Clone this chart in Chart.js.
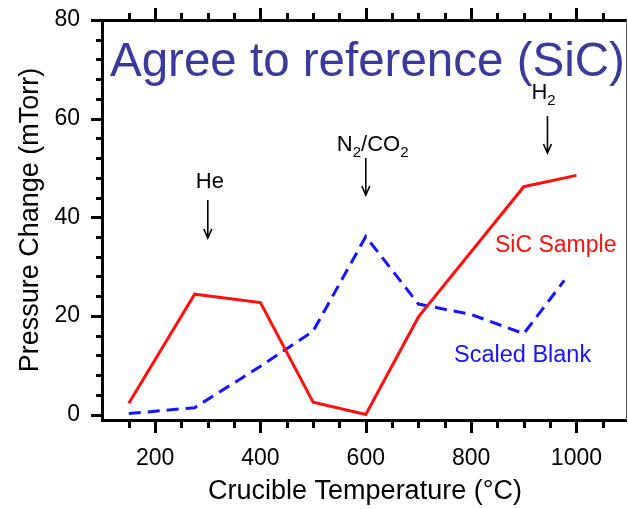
<!DOCTYPE html>
<html>
<head>
<meta charset="utf-8">
<script src="https://cdn.jsdelivr.net/npm/chart.js@4"></script>
<style>
  html, body { margin: 0; padding: 0; background: #fff; }
  #wrap { width: 628px; height: 509px; }
</style>
</head>
<body>
<div id="wrap"><canvas id="chart" width="628" height="509"></canvas></div>
<script>
// ---- Data ----
const sampleTemps = [150, 275, 400, 500, 600, 700, 900, 1000];
const sampleValues = [2.3, 24.4, 22.7, 2.5, 0, 19.8, 46.2, 48.5];
const blankTemps = [150, 275, 400, 500, 600, 700, 800, 900, 977];
const blankValues = [0.2, 1.4, 9.8, 16.9, 36.1, 22.4, 20.3, 16.4, 27.2];
const xTicks = [200, 400, 600, 800, 1000];
const yTicks = [0, 20, 40, 60, 80];

const FONT = '"Liberation Sans", Arial, sans-serif';
const RED = '#ff0f0f';
const BLUE = '#1414ff';

// frame, ticks and annotations drawn on top of the chart area
const decorations = {
  id: 'decorations',
  afterDraw(chart) {
    const { ctx, chartArea: a, scales: { x, y } } = chart;
    const L = Math.round(a.left), R = Math.round(a.right), T = Math.round(a.top), B = Math.round(a.bottom);
    ctx.save();
    ctx.setLineDash([]);

    // frame
    ctx.fillStyle = '#000';
    ctx.fillRect(L - 2, T - 1, R - L + 2, 3);
    ctx.fillRect(L - 2, B - 1, R - L + 2, 3);
    ctx.fillRect(L - 2, T - 1, 3, B - T + 3);
    ctx.fillStyle = '#555';
    ctx.fillRect(R - 1, T, 1, B - T);

    // x ticks (bottom and top, outward)
    ctx.fillStyle = '#000';
    for (let v = 150; v <= x.max; v += 50) {
      const px = Math.round(x.getPixelForValue(v));
      const len = v % 200 === 0 ? 12 : 7;
      ctx.fillRect(px - 1, B, 3, len + 1);
      ctx.fillRect(px - 1, T - len, 3, len);
    }
    // y ticks (left, outward)
    for (let v = 0; v <= 80; v += 4) {
      const py = Math.round(y.getPixelForValue(v));
      const len = v % 20 === 0 ? 12 : 7;
      ctx.fillRect(L - len, py - 1, len, 3);
    }

    // headline
    ctx.fillStyle = '#3a3a9e';
    ctx.font = '47.5px ' + FONT;
    ctx.textAlign = 'left';
    ctx.textBaseline = 'alphabetic';
    ctx.fillText('Agree to reference (SiC)', L + 7, 76);

    // series labels
    ctx.font = '23px ' + FONT;
    ctx.fillStyle = RED;
    ctx.fillText('SiC Sample', 495, 252);
    ctx.font = '23.5px ' + FONT;
    ctx.fillStyle = BLUE;
    ctx.fillText('Scaled Blank', 454, 362);

    // gas arrows
    ctx.fillStyle = '#000';
    ctx.strokeStyle = '#000';
    ctx.lineWidth = 1.6;
    const arrow = (xv, top, bottom) => {
      const px = x.getPixelForValue(xv);
      ctx.beginPath();
      ctx.moveTo(px, top); ctx.lineTo(px, bottom);
      ctx.moveTo(px - 4, bottom - 9); ctx.lineTo(px, bottom); ctx.lineTo(px + 4, bottom - 9);
      ctx.stroke();
      return px;
    };
    const BIG = '22px ' + FONT, SMALL = '15px ' + FONT;
    ctx.font = BIG;
    ctx.textAlign = 'center';

    let px = arrow(300, 200, 238);
    ctx.fillText('He', px + 2, 188);

    // labels with subscripts
    ctx.textAlign = 'left';
    let cx = 0;
    const sub = (t, base) => { ctx.font = SMALL; ctx.fillText(t, cx, base + 6); cx += ctx.measureText(t).width; ctx.font = BIG; };
    const txt = (t, base) => { ctx.font = BIG; ctx.fillText(t, cx, base); cx += ctx.measureText(t).width; };

    px = arrow(600, 158, 195);
    cx = px - 29;
    txt('N', 151); sub('2', 151); txt('/CO', 151); sub('2', 151);

    px = arrow(945, 116, 153);
    cx = px - 16;
    txt('H', 99); sub('2', 99);

    ctx.restore();
  }
};

new Chart(document.getElementById('chart'), {
  type: 'line',
  data: {
    datasets: [
      {
        label: 'SiC Sample',
        data: sampleTemps.map((t, i) => ({ x: t, y: sampleValues[i] })),
        borderColor: RED,
        borderWidth: 3,
        pointRadius: 0,
        tension: 0,
        fill: false
      },
      {
        label: 'Scaled Blank',
        data: blankTemps.map((t, i) => ({ x: t, y: blankValues[i] })),
        borderColor: BLUE,
        borderWidth: 3,
        borderDash: [12, 7],
        pointRadius: 0,
        tension: 0,
        fill: false
      }
    ]
  },
  options: {
    responsive: false,
    animation: false,
    devicePixelRatio: 1,
    layout: { padding: { top: 20, right: 1, left: 0, bottom: 0 } },
    plugins: { legend: { display: false }, tooltip: { enabled: false } },
    scales: {
      x: {
        type: 'linear',
        min: 101,
        max: 1096,
        afterBuildTicks: s => { s.ticks = xTicks.map(v => ({ value: v })); },
        afterFit: s => { s.height = 89; s.paddingLeft = 0; s.paddingRight = 0; },
        grid: { display: false, drawTicks: false },
        border: { display: false },
        ticks: { color: '#000', font: { family: FONT, size: 23 }, padding: 25, maxRotation: 0, callback: v => String(v) },
        title: { display: true, text: 'Crucible Temperature (°C)', color: '#000', font: { family: FONT, size: 27 }, padding: { bottom: 1 } }
      },
      y: {
        min: -1.1,
        max: 80,
        afterBuildTicks: s => { s.ticks = yTicks.map(v => ({ value: v })); },
        afterFit: s => { s.width = 103; s.paddingTop = 0; s.paddingBottom = 0; },
        grid: { display: false, drawTicks: false },
        border: { display: false },
        ticks: { color: '#000', font: { family: FONT, size: 23 }, padding: 23, callback: v => String(v) },
        title: { display: true, text: 'Pressure Change (mTorr)', color: '#000', font: { family: FONT, size: 27 }, padding: { top: 14 } }
      }
    }
  },
  plugins: [decorations]
});
</script>
</body>
</html>
